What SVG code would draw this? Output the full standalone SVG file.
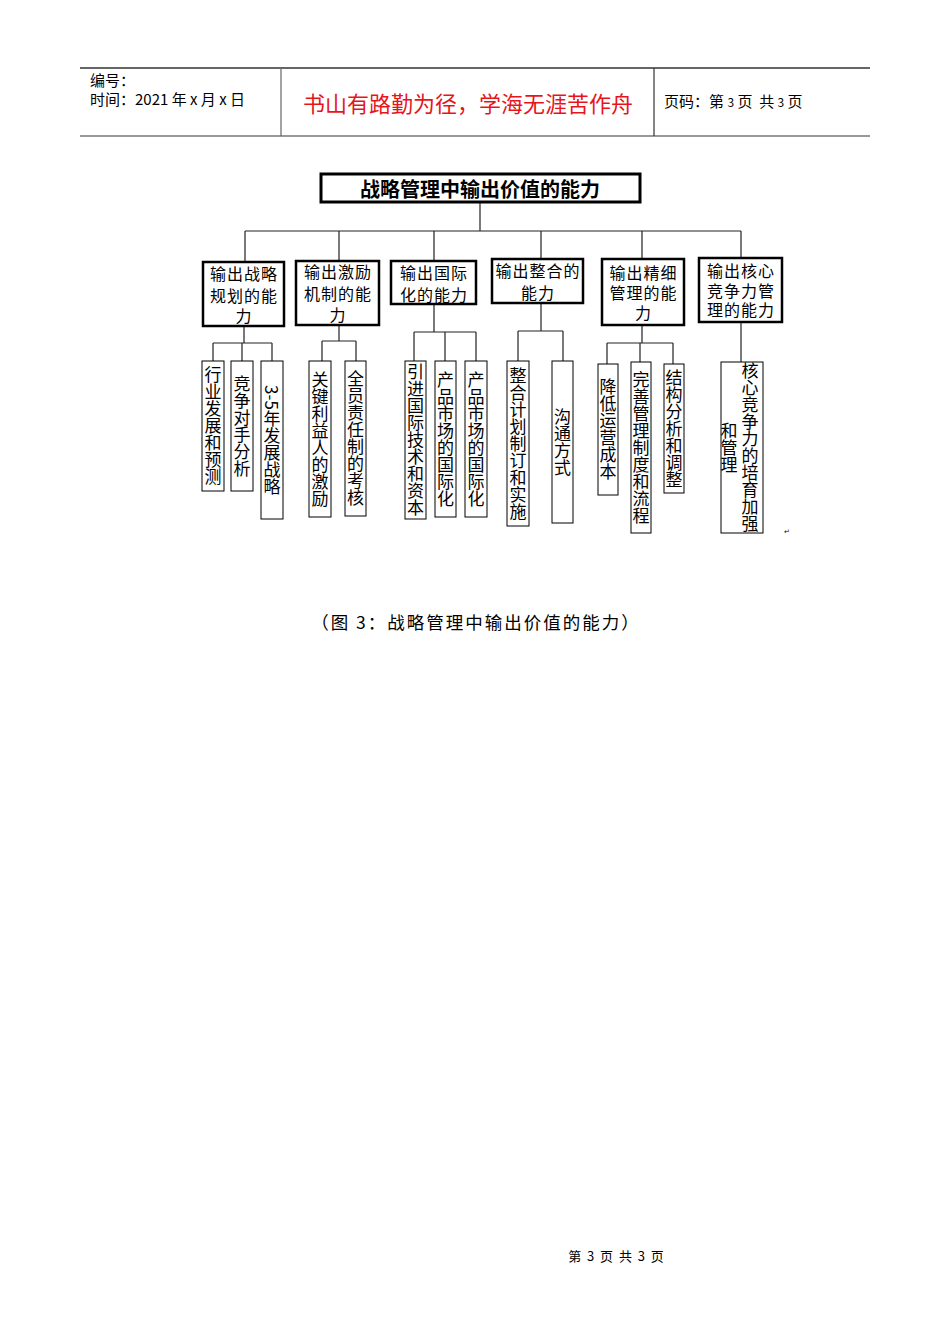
<svg xmlns="http://www.w3.org/2000/svg" width="950" height="1344" viewBox="0 0 950 1344">
<style>
text{font-family:"Noto Sans CJK SC","Liberation Sans",sans-serif;fill:#000;white-space:pre}
.hdr{font-size:15px}
.red{font-size:22px;fill:#e8141c}
.title{font-size:20px;font-weight:bold}
.l2 rect{fill:#fff;stroke:#000;stroke-width:2.5}
.l2 text{font-size:16px;letter-spacing:1px;text-anchor:middle}
.leaf rect{fill:#fff;stroke:#000;stroke-width:1}
.leaf text{font-size:17px;text-anchor:middle;writing-mode:vertical-rl}
.conn path{fill:none;stroke:#222;stroke-width:1.2}
.cap{font-size:17.5px;letter-spacing:2px;text-anchor:middle}
</style>
<rect width="950" height="1344" fill="#fff"/>
<g id="header">
<line x1="80" y1="68" x2="870" y2="68" stroke="#333" stroke-width="1.5"/>
<line x1="80" y1="136" x2="870" y2="136" stroke="#999" stroke-width="2"/>
<line x1="281" y1="68" x2="281" y2="136" stroke="#666" stroke-width="1.2"/>
<line x1="654" y1="68" x2="654" y2="136" stroke="#333" stroke-width="1.2"/>
<text class="hdr" x="90" y="86">编号：</text>
<text class="hdr" x="90" y="105">时间：2021 年 x 月 x 日</text>
<text class="red" x="468" y="112" text-anchor="middle">书山有路勤为径，学海无涯苦作舟</text>
<text class="hdr" x="664" y="107">页码：第 <tspan font-size="12">3</tspan> 页  共 <tspan font-size="12">3</tspan> 页</text>
</g>
<g class="conn" id="connectors">
<path d="M480 202V231M245 231H741M245 231V262M339 231V261M434 231V261M541 231V259M642 231V259M741 231V258"/>
<path d="M244 326V343M213 343H272M213 343V361M242 343V361M272 343V361"/>
<path d="M339 325V341M322 341H356M322 341V361M356 341V361"/>
<path d="M434 304V332M414 332H476M414 332V361M445 332V361M476 332V361"/>
<path d="M541 303V331M518 331H563M518 331V361M563 331V361"/>
<path d="M642 325V343M607 343H673M607 343V364M640 343V362M673 343V364"/>
<path d="M741 322V362"/>
</g>
<g id="root">
<rect x="321" y="174" width="319" height="28" fill="#fff" stroke="#000" stroke-width="3"/>
<text class="title" x="480" y="197" text-anchor="middle">战略管理中输出价值的能力</text>
</g>
<g class="l2" id="n1"><rect x="203" y="262" width="81" height="64"/><text x="244" y="280">输出战略</text><text x="244" y="302">规划的能</text><text x="244" y="322">力</text></g>
<g class="l2" id="n2"><rect x="296" y="261" width="83" height="64"/><text x="338" y="278">输出激励</text><text x="338" y="300">机制的能</text><text x="338" y="321">力</text></g>
<g class="l2" id="n3"><rect x="391" y="261" width="85" height="43"/><text x="434" y="279">输出国际</text><text x="434" y="301">化的能力</text></g>
<g class="l2" id="n4"><rect x="492" y="259" width="91" height="44"/><text x="538" y="277">输出整合的</text><text x="538" y="299">能力</text></g>
<g class="l2" id="n5"><rect x="602" y="259" width="82" height="66"/><text x="643.5" y="278.5">输出精细</text><text x="643.5" y="299">管理的能</text><text x="643.5" y="319">力</text></g>
<g class="l2" id="n6"><rect x="699" y="258" width="83" height="64"/><text x="741" y="276.5">输出核心</text><text x="741" y="296.5">竞争力管</text><text x="741" y="316">理的能力</text></g>
<g class="leaf" id="leaf1"><rect x="202" y="361" width="22" height="130"/><text x="213" y="426">行业发展和预测</text></g>
<g class="leaf" id="leaf2"><rect x="231" y="361" width="22" height="130"/><text x="242" y="426">竞争对手分析</text></g>
<g class="leaf" id="leaf3"><rect x="261" y="361" width="22" height="158"/><text x="272" y="440">3-5年发展战略</text></g>
<g class="leaf" id="leaf4"><rect x="309" y="361" width="22" height="156"/><text x="320" y="439">关键利益人的激励</text></g>
<g class="leaf" id="leaf5"><rect x="345" y="361" width="21" height="155"/><text x="355.5" y="438.5">全员责任制的考核</text></g>
<g class="leaf" id="leaf6"><rect x="405" y="361" width="21" height="158"/><text x="415.5" y="440">引进国际技术和资本</text></g>
<g class="leaf" id="leaf7"><rect x="435" y="361" width="21" height="156"/><text x="445.5" y="439">产品市场的国际化</text></g>
<g class="leaf" id="leaf8"><rect x="465" y="361" width="22" height="156"/><text x="476" y="439">产品市场的国际化</text></g>
<g class="leaf" id="leaf9"><rect x="507" y="361" width="22" height="165"/><text x="518" y="443.5">整合计划制订和实施</text></g>
<g class="leaf" id="leaf10"><rect x="552" y="361" width="21" height="162"/><text x="562.5" y="442">沟通方式</text></g>
<g class="leaf" id="leaf11"><rect x="598" y="364" width="20" height="131"/><text x="608" y="429.5">降低运营成本</text></g>
<g class="leaf" id="leaf12"><rect x="631" y="362" width="20" height="171"/><text x="641" y="447.5">完善管理制度和流程</text></g>
<g class="leaf" id="leaf13"><rect x="664" y="364" width="20" height="129"/><text x="674" y="428.5">结构分析和调整</text></g>
<g class="leaf" id="leaf14"><rect x="721" y="362" width="42" height="171"/><text x="750" y="447.5">核心竞争力的培育加强</text><text x="729" y="447.5">和管理</text></g>
<text x="784" y="534" font-size="7" fill="#999">↵</text>
<text class="cap" x="476" y="629">（图 3：战略管理中输出价值的能力）</text>
<text x="616" y="1261" font-size="13" text-anchor="middle">第  3  页  共  3  页</text>
</svg>
